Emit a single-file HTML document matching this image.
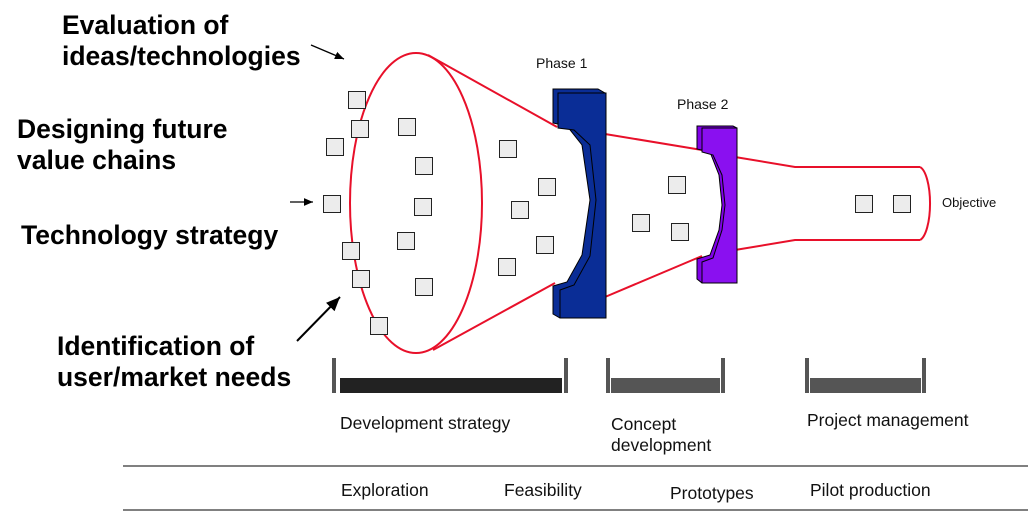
<!DOCTYPE html>
<html><head><style>
body{margin:0;width:1028px;height:513px;background:#fff;overflow:hidden;position:relative;font-family:"Liberation Sans",sans-serif}
.t{position:absolute;font-weight:bold;font-size:26.5px;line-height:31px;color:#000}
.s{position:absolute;font-size:17.5px;color:#111}
.q{position:absolute;width:16px;height:16px;background:#ececec;border:1px solid #222}
</style></head><body>
<svg width="1028" height="513" style="position:absolute;left:0;top:0">
<defs><marker id="a" markerWidth="8" markerHeight="8" refX="7" refY="4" orient="auto"><path d="M0,1L7,4L0,7z" fill="#000"/></marker></defs>
<g stroke="#e8102a" stroke-width="2" fill="none">
<ellipse cx="416" cy="203" rx="66" ry="150"/>
<line x1="428" y1="55" x2="557" y2="127"/>
<line x1="433" y1="350" x2="555" y2="283"/>
<line x1="605" y1="134" x2="702" y2="150"/>
<line x1="605" y1="297" x2="702" y2="256"/>
<path d="M735,157 L795,167 L920,167"/>
<path d="M735,250 L795,240 L920,240"/>
<path d="M920,167 A12,37 0 0 1 920,240"/>
</g>
<path d="M553,89 L598,89 L605,93 L605,318 L560,318 L553,314 L553,286 L567,282 L582,255 L590,200 L582,145 L567,126 L553,123Z" fill="#0a2d96" stroke="#000" stroke-width="1"/>
<path d="M558,93 L606,93 L606,318 L560,318 L560,290 L574,285 L590,256 L596,200 L590,145 L574,130 L558,128Z" fill="#0a2d96" stroke="#000" stroke-width="1"/>
<path d="M697,126 L733,126 L737,128 L737,283 L702,283 L697,279 L697,259 L710,255 L719,230 L722,205 L719,175 L710,152 L697,149Z" fill="#8000e8" stroke="#000" stroke-width="1"/>
<path d="M702,128 L737,128 L737,283 L702,283 L702,262 L713,258 L722,230 L725,205 L722,175 L713,155 L702,152Z" fill="#8a10f0" stroke="#000" stroke-width="1"/>
<g stroke="#000" stroke-width="1.3">
<line x1="311" y1="45" x2="344" y2="59" marker-end="url(#a)"/>
<line x1="290" y1="202" x2="313" y2="202" marker-end="url(#a)"/>
<line x1="297" y1="341" x2="340" y2="297" stroke-width="2" marker-end="url(#a)"/>
</g>
<g fill="#555">
<rect x="332" y="358" width="4" height="35"/><rect x="564" y="358" width="4" height="35"/>
<rect x="606" y="358" width="4" height="35"/><rect x="721" y="358" width="4" height="35"/>
<rect x="805" y="358" width="4" height="35"/><rect x="922" y="358" width="4" height="35"/>
<rect x="611" y="378" width="109" height="15"/><rect x="810" y="378" width="111" height="15"/>
</g>
<rect x="340" y="378" width="222" height="15" fill="#222"/>
<line x1="123" y1="466" x2="1028" y2="466" stroke="#000" stroke-width="1"/>
<line x1="123" y1="510" x2="1028" y2="510" stroke="#000" stroke-width="1"/>
</svg>
<div class="t" style="left:62px;top:10px">Evaluation of<br>ideas/technologies</div>
<div class="t" style="left:17px;top:114px">Designing future<br>value chains</div>
<div class="t" style="left:21px;top:220px">Technology strategy</div>
<div class="t" style="left:57px;top:331px">Identification of<br>user/market needs</div>
<div class="s" style="left:536px;top:55px;font-size:14px">Phase 1</div>
<div class="s" style="left:677px;top:96px;font-size:14px">Phase 2</div>
<div class="s" style="left:942px;top:195px;font-size:13px">Objective</div>
<div class="s" style="left:340px;top:413px">Development strategy</div>
<div class="s" style="left:611px;top:414px;line-height:21px">Concept<br>development</div>
<div class="s" style="left:807px;top:410px">Project management</div>
<div class="s" style="left:341px;top:480px">Exploration</div>
<div class="s" style="left:504px;top:480px">Feasibility</div>
<div class="s" style="left:670px;top:483px">Prototypes</div>
<div class="s" style="left:810px;top:480px">Pilot production</div>
<div class="q" style="left:348px;top:91px"></div><div class="q" style="left:351px;top:120px"></div>
<div class="q" style="left:398px;top:118px"></div><div class="q" style="left:326px;top:138px"></div>
<div class="q" style="left:415px;top:157px"></div><div class="q" style="left:499px;top:140px"></div>
<div class="q" style="left:538px;top:178px"></div><div class="q" style="left:323px;top:195px"></div>
<div class="q" style="left:414px;top:198px"></div><div class="q" style="left:511px;top:201px"></div>
<div class="q" style="left:397px;top:232px"></div><div class="q" style="left:342px;top:242px"></div>
<div class="q" style="left:536px;top:236px"></div><div class="q" style="left:352px;top:270px"></div>
<div class="q" style="left:498px;top:258px"></div><div class="q" style="left:415px;top:278px"></div>
<div class="q" style="left:370px;top:317px"></div>
<div class="q" style="left:668px;top:176px"></div><div class="q" style="left:632px;top:214px"></div>
<div class="q" style="left:671px;top:223px"></div>
<div class="q" style="left:855px;top:195px"></div><div class="q" style="left:893px;top:195px"></div>
</body></html>
